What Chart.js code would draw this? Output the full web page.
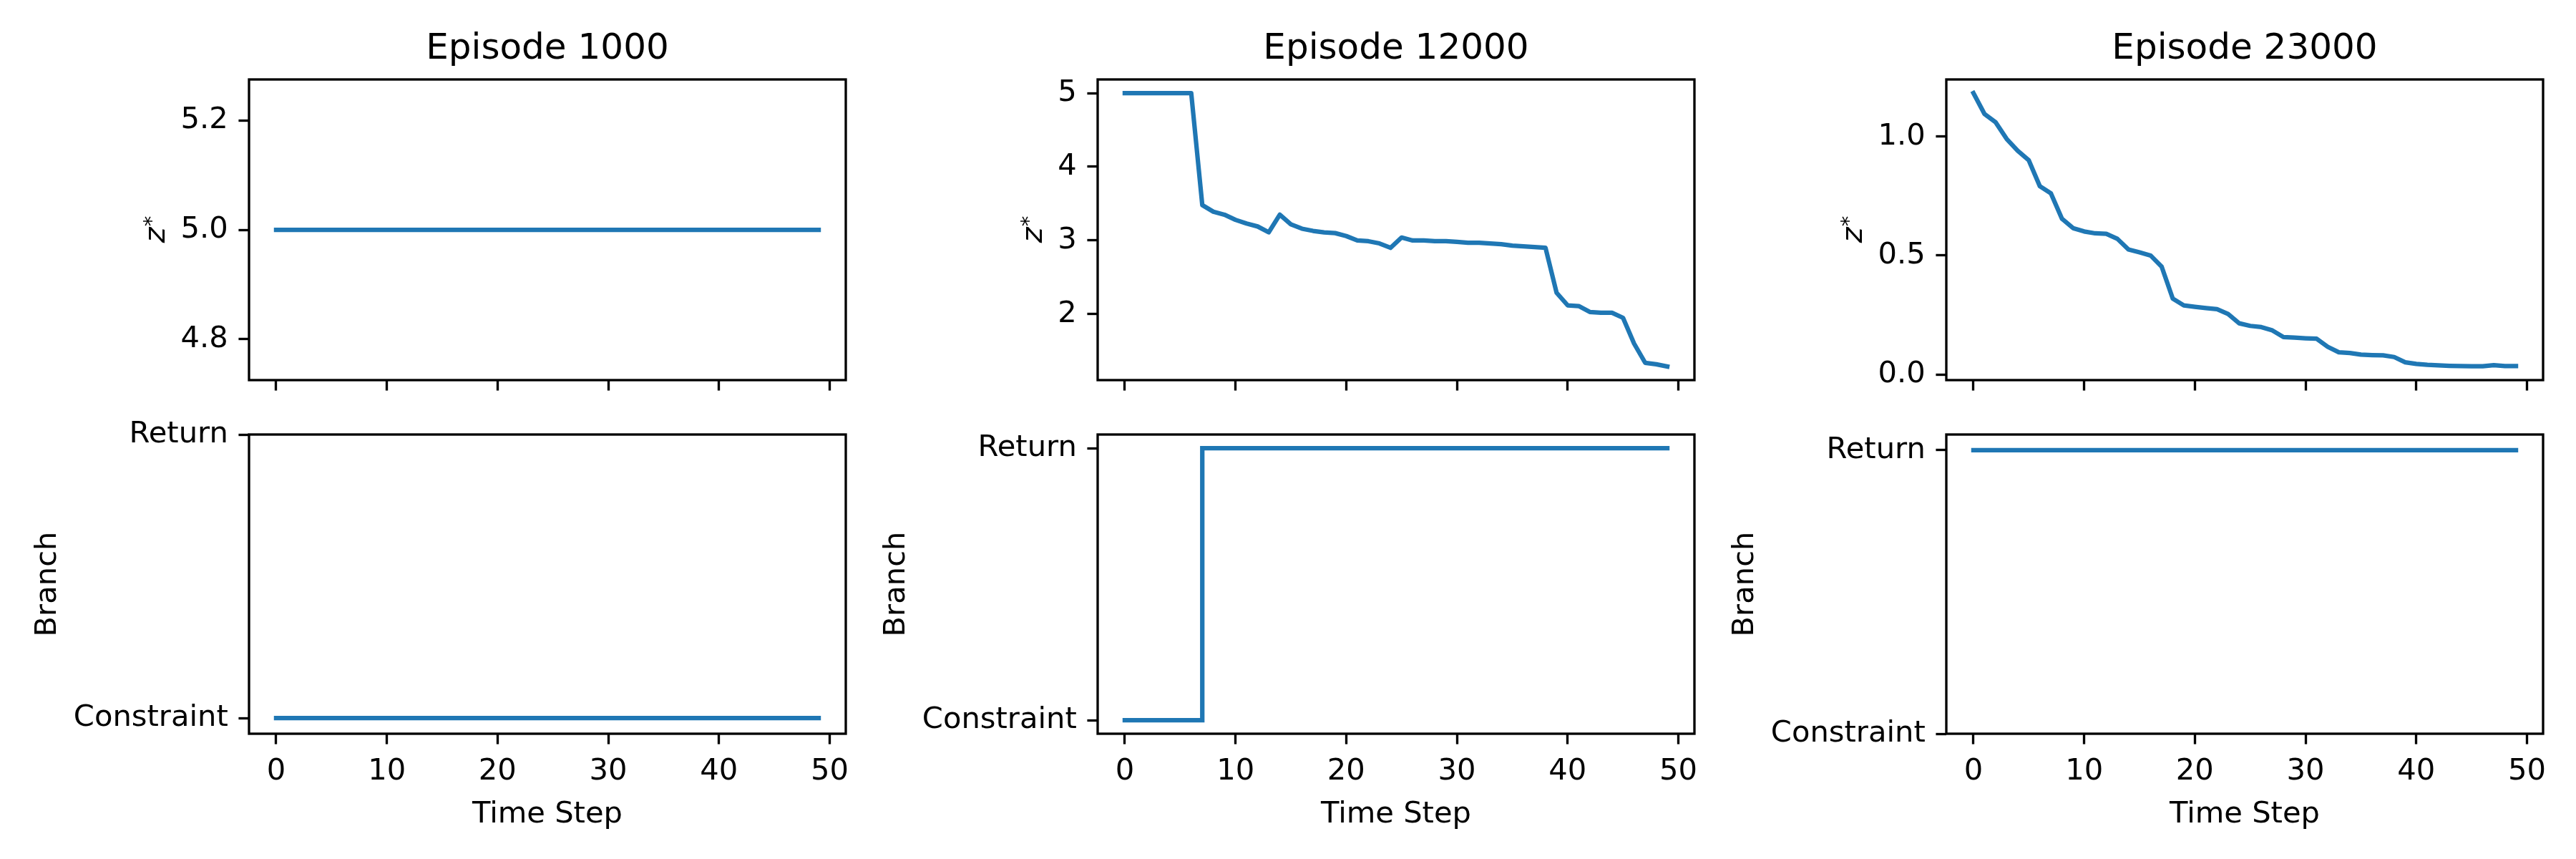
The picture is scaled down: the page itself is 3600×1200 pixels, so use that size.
<!DOCTYPE html>
<html>
<head>
<meta charset="utf-8">
<title>z* and branch over time steps</title>
<script src="https://cdn.jsdelivr.net/npm/chart.js@4.4.0/dist/chart.umd.min.js"></script>
<style>
  html, body { margin: 0; padding: 0; background: #fff; }
  body { width: 3600px; height: 1200px; position: relative; overflow: hidden; }
  canvas { position: absolute; }
</style>
</head>
<body>
<canvas id="zA"></canvas>
<canvas id="zB"></canvas>
<canvas id="zC"></canvas>
<canvas id="brA"></canvas>
<canvas id="brB"></canvas>
<canvas id="brC"></canvas>
<script>
// ---- data ----
const episodes = ['Episode 1000', 'Episode 12000', 'Episode 23000'];

const steps = [0, 1, 2, 3, 4, 5, 6, 7, 8, 9, 10, 11, 12, 13, 14, 15, 16, 17, 18, 19,
  20, 21, 22, 23, 24, 25, 26, 27, 28, 29, 30, 31, 32, 33, 34, 35, 36, 37, 38, 39,
  40, 41, 42, 43, 44, 45, 46, 47, 48, 49];

const zEp1000 = [5, 5, 5, 5, 5, 5, 5, 5, 5, 5, 5, 5, 5, 5, 5, 5, 5, 5, 5, 5,
  5, 5, 5, 5, 5, 5, 5, 5, 5, 5, 5, 5, 5, 5, 5, 5, 5, 5, 5, 5,
  5, 5, 5, 5, 5, 5, 5, 5, 5, 5];

const zEp12000 = [5, 5, 5, 5, 5, 5, 5, 3.48, 3.39, 3.35,
  3.28, 3.23, 3.19, 3.11, 3.35, 3.22, 3.16, 3.13, 3.11, 3.10,
  3.06, 3.00, 2.99, 2.96, 2.90, 3.04, 3.00, 3.00, 2.99, 2.99,
  2.98, 2.97, 2.97, 2.96, 2.95, 2.93, 2.92, 2.91, 2.90, 2.29,
  2.12, 2.11, 2.03, 2.02, 2.02, 1.95, 1.60, 1.34, 1.32, 1.29];

const zEp23000 = [1.183, 1.095, 1.060, 0.990, 0.940, 0.900, 0.791, 0.761, 0.654, 0.615,
  0.601, 0.593, 0.591, 0.570, 0.525, 0.513, 0.500, 0.453, 0.319, 0.290,
  0.284, 0.279, 0.274, 0.254, 0.215, 0.204, 0.199, 0.185, 0.157, 0.155,
  0.152, 0.150, 0.116, 0.093, 0.090, 0.083, 0.081, 0.080, 0.073, 0.051,
  0.044, 0.040, 0.038, 0.036, 0.035, 0.034, 0.034, 0.039, 0.035, 0.035];

// 0 = Constraint, 1 = Return
const branchEp1000 = [0, 0, 0, 0, 0, 0, 0, 0, 0, 0, 0, 0, 0, 0, 0, 0, 0, 0, 0, 0,
  0, 0, 0, 0, 0, 0, 0, 0, 0, 0, 0, 0, 0, 0, 0, 0, 0, 0, 0, 0,
  0, 0, 0, 0, 0, 0, 0, 0, 0, 0];
const branchEp12000 = [0, 0, 0, 0, 0, 0, 0, 1, 1, 1, 1, 1, 1, 1, 1, 1, 1, 1, 1, 1,
  1, 1, 1, 1, 1, 1, 1, 1, 1, 1, 1, 1, 1, 1, 1, 1, 1, 1, 1, 1,
  1, 1, 1, 1, 1, 1, 1, 1, 1, 1];
const branchEp23000 = [1, 1, 1, 1, 1, 1, 1, 1, 1, 1, 1, 1, 1, 1, 1, 1, 1, 1, 1, 1,
  1, 1, 1, 1, 1, 1, 1, 1, 1, 1, 1, 1, 1, 1, 1, 1, 1, 1, 1, 1,
  1, 1, 1, 1, 1, 1, 1, 1, 1, 1];

// tick values and labels
const xTicks = [0, 10, 20, 30, 40, 50];
const xTickLabels = ['0', '10', '20', '30', '40', '50'];
const zTicks = [[4.8, 5.0, 5.2], [2, 3, 4, 5], [0.0, 0.5, 1.0]];
const zTickLabels = [['4.8', '5.0', '5.2'], ['2', '3', '4', '5'], ['0.0', '0.5', '1.0']];
const branchTicks = [0, 1];
const branchLabels = ['Constraint', 'Return'];

// axis limits (matplotlib autoscale with 5% margins)
const xLimits = [-2.45, 51.45];
const zLimits = [[4.725, 5.275], [1.105, 5.185], [-0.024, 1.24]];
const branchLimits = [[-0.055, 1], [-0.05, 1.05], [0, 1.055]];

// ---- styling ----
const PT = 300 / 72;               // figure was 300 dpi
const BLUE = '#1f77b4';
const FONT = 'DejaVu Sans';
const tickFont = { family: FONT, size: 10 * PT };
const COL_LEFT = [0, 1186, 2372];  // canvas left of each column
const AXIS_OFF = 348;              // from canvas left to plot area
const CANVAS_W = 1212;

Chart.defaults.font.family = FONT;
Chart.defaults.color = '#000';

// box around the plot area, drawn over the line like matplotlib spines
const frame = {
  id: 'frame',
  afterDatasetsDraw(chart) {
    const { ctx, chartArea: a } = chart;
    ctx.save();
    ctx.strokeStyle = '#000';
    ctx.lineWidth = 0.8 * PT;
    ctx.strokeRect(a.left, a.top, a.right - a.left, a.bottom - a.top);
    ctx.restore();
  }
};

// y label "z*" with italic z and a raised asterisk
const zLabel = {
  id: 'zLabel',
  afterDraw(chart) {
    const { ctx, chartArea: a } = chart;
    const y = chart.scales.y;
    ctx.save();
    ctx.font = `${tickFont.size}px "${FONT}"`;
    const widest = Math.max(...y.ticks.map(t => ctx.measureText(t.label).width));
    const base = a.left - 7 * PT - widest - 4 * PT - 6;
    ctx.translate(base, (a.top + a.bottom) / 2);
    ctx.rotate(-Math.PI / 2);
    ctx.fillStyle = '#000';
    ctx.textBaseline = 'alphabetic';
    ctx.font = `italic ${tickFont.size}px "${FONT}"`;
    const wz = ctx.measureText('z').width;
    const supSize = tickFont.size * 0.7;
    ctx.font = `${supSize}px "${FONT}"`;
    const ws = ctx.measureText('*').width;
    const start = -(wz + ws) / 2;
    ctx.font = `italic ${tickFont.size}px "${FONT}"`;
    ctx.fillText('z', start, 0);
    ctx.font = `${supSize}px "${FONT}"`;
    ctx.fillText('*', start + wz + 1, -9);
    ctx.restore();
  }
};

const gridOpts = {
  drawOnChartArea: false,
  drawTicks: true,
  tickLength: 3.5 * PT,
  tickWidth: 0.8 * PT,
  tickColor: '#000',
  color: '#000'
};

function points(values) {
  return steps.map((t, i) => ({ x: t, y: values[i] }));
}

function xScale(showLabels, height) {
  return {
    type: 'linear',
    min: xLimits[0],
    max: xLimits[1],
    afterBuildTicks: s => { s.ticks = xTicks.map(v => ({ value: v })); },
    afterFit: s => { s.height = height; },
    grid: gridOpts,
    border: { display: false },
    ticks: {
      display: showLabels,
      autoSkip: false,
      maxRotation: 0,
      font: tickFont,
      color: '#000',
      padding: 14,
      callback: (v, i) => xTickLabels[i]
    },
    title: {
      display: showLabels,
      text: 'Time Step',
      font: tickFont,
      color: '#000',
      padding: { top: 0, bottom: 37 }
    }
  };
}

// the plot area edges are fixed by layout padding and box sizes,
// so the y axis should not ask for room for its end labels
function fixY(s) {
  s.width = AXIS_OFF;
  s.paddingTop = 0;
  s.paddingBottom = 0;
}

function placeCanvas(id, col, top, height) {
  const el = document.getElementById(id);
  el.width = CANVAS_W;
  el.height = height;
  el.style.left = COL_LEFT[col] + 'px';
  el.style.top = top + 'px';
  return el;
}

const zSeries = [zEp1000, zEp12000, zEp23000];
const branchSeries = [branchEp1000, branchEp12000, branchEp23000];

// top row: z* per time step
['zA', 'zB', 'zC'].forEach((id, col) => {
  const el = placeCanvas(id, col, 0, 560);
  new Chart(el, {
    type: 'line',
    data: {
      datasets: [{
        data: points(zSeries[col]),
        borderColor: BLUE,
        borderWidth: 1.5 * PT,
        borderCapStyle: 'square',
        borderJoinStyle: 'round',
        pointRadius: 0,
        tension: 0,
        fill: false
      }]
    },
    options: {
      responsive: false,
      animation: false,
      devicePixelRatio: 1,
      layout: { padding: { top: 0, right: 30, bottom: 0, left: 0 } },
      scales: {
        x: xScale(false, 29),
        y: {
          type: 'linear',
          min: zLimits[col][0],
          max: zLimits[col][1],
          afterBuildTicks: s => { s.ticks = zTicks[col].map(v => ({ value: v })); },
          afterFit: fixY,
          grid: gridOpts,
          border: { display: false },
          ticks: {
            font: tickFont,
            color: '#000',
            padding: 3.5 * PT,
            callback: (v, i) => zTickLabels[col][i]
          }
        }
      },
      plugins: {
        legend: { display: false },
        tooltip: { enabled: false },
        title: {
          display: true,
          text: episodes[col],
          fullSize: false,
          color: '#000',
          font: { family: FONT, size: 12 * PT, weight: 'normal' },
          padding: { top: 39, bottom: 12 }
        }
      }
    },
    plugins: [frame, zLabel]
  });
});

// bottom row: which branch was taken
['brA', 'brB', 'brC'].forEach((id, col) => {
  const el = placeCanvas(id, col, 560, 640);
  new Chart(el, {
    type: 'line',
    data: {
      datasets: [{
        data: points(branchSeries[col]),
        stepped: 'before',
        borderColor: BLUE,
        borderWidth: 1.5 * PT,
        borderCapStyle: 'square',
        borderJoinStyle: 'miter',
        pointRadius: 0,
        fill: false
      }]
    },
    options: {
      responsive: false,
      animation: false,
      devicePixelRatio: 1,
      layout: { padding: { top: 47, right: 30, bottom: 0, left: 0 } },
      scales: {
        x: xScale(true, 175),
        y: {
          type: 'linear',
          min: branchLimits[col][0],
          max: branchLimits[col][1],
          afterBuildTicks: s => { s.ticks = branchTicks.map(v => ({ value: v })); },
          afterFit: fixY,
          grid: gridOpts,
          border: { display: false },
          ticks: {
            font: tickFont,
            color: '#000',
            padding: 3.5 * PT,
            callback: (v, i) => branchLabels[i]
          },
          title: {
            display: true,
            text: 'Branch',
            font: tickFont,
            color: '#000',
            padding: { top: 42, bottom: 0 }
          }
        }
      },
      plugins: {
        legend: { display: false },
        tooltip: { enabled: false }
      }
    },
    plugins: [frame]
  });
});
</script>
</body>
</html>
